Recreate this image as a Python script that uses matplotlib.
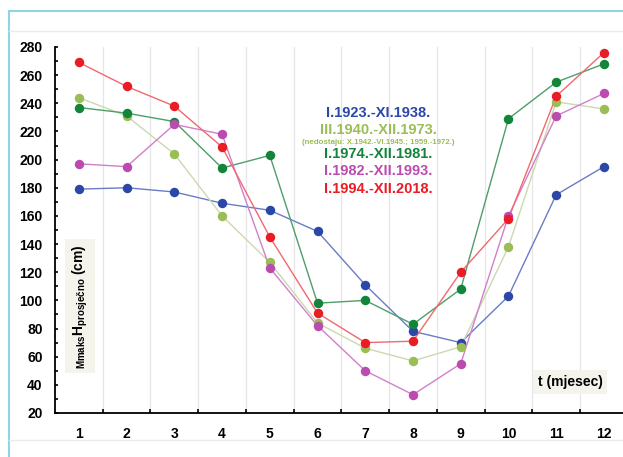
import matplotlib
matplotlib.use('Agg')
import matplotlib.pyplot as plt
import matplotlib.ticker as mticker
from matplotlib.lines import Line2D

plt.rcParams['font.family'] = ['Liberation Sans', 'DejaVu Sans']
plt.rcParams['mathtext.fontset'] = 'custom'
plt.rcParams['mathtext.rm'] = 'Liberation Sans'
plt.rcParams['mathtext.bf'] = 'Liberation Sans:bold'

# ---------------------------------------------------------------- data
months = list(range(1, 13))

labels = ['I.1923.-XI.1938.', 'III.1940.-XII.1973.', 'I.1974.-XII.1981.',
          'I.1982.-XII.1993.', 'I.1994.-XII.2018.']
colors = ['#2B47A8', '#9BBD56', '#12853A', '#BC4BB0', '#EA1C24']
line_colors = ['#6A7CC4', '#CBD9AE', '#4E9E6A', '#D27FCB', '#F0696F']

h_1923 = [179, 180, 177, 169, 164, 149, 111, 78, 70, 103, 175, 195]
h_1940 = [244, 231, 204, 160, 127, 84, 66, 57, 67, 138, 241, 236]
h_1974 = [237, 233, 227, 194, 203, 98, 100, 83, 108, 229, 255, 268]
h_1982 = [197, 195, 225, 218, 123, 82, 50, 33, 55, 160, 231, 247]
h_1994 = [269, 252, 238, 209, 145, 91, 70, 71, 120, 158, 245, 276]
series = [h_1923, h_1940, h_1974, h_1982, h_1994]

gap_note = '(nedostaju: X.1942.-VI.1945.; 1959.-1972.)'

# ---------------------------------------------------------------- figure
fig = plt.figure(figsize=(6.23, 4.57), dpi=100)
ax = fig.add_axes([0.0883, 0.0963, 0.9117, 0.8009])

# outer frame of the page
fig.add_artist(Line2D([9/623, 1], [1 - 11/457] * 2, color='#8FD4E2', lw=1.5))
fig.add_artist(Line2D([9/623] * 2, [0, 1 - 11/457], color='#8FD4E2', lw=1.5))
fig.add_artist(Line2D([9/623, 1], [1 - 31/457] * 2, color='#EAEAEA', lw=1))
fig.add_artist(Line2D([9/623, 1], [1 - 440/457] * 2, color='#EAEAEA', lw=1))

for vals, c, lc in zip(series, colors, line_colors):
    ax.plot(months, vals, color=lc, lw=1.0, zorder=2)
    ax.plot(months, vals, linestyle='none', marker='o', markersize=6.8,
            color=c, markeredgewidth=0, zorder=3)

ax.set_xlim(0.5, 12.4)
ax.set_ylim(20, 280)
ax.xaxis.set_major_locator(mticker.FixedLocator(months))
ax.xaxis.set_minor_locator(mticker.FixedLocator([m + 0.5 for m in months[:-1]]))
ax.yaxis.set_major_locator(mticker.MultipleLocator(20))
ax.yaxis.set_minor_locator(mticker.MultipleLocator(10))

ax.tick_params(axis='x', which='major', length=0, pad=10, labelsize=10)
ax.tick_params(axis='x', which='minor', direction='in', length=3, width=1.2)
ax.tick_params(axis='y', which='both', direction='in', length=2.5, width=1.2,
               pad=9, labelsize=10)
for lbl in ax.get_xticklabels() + ax.get_yticklabels():
    lbl.set_fontweight('bold')

ax.grid(axis='x', which='minor', color='#E6E6E6', lw=0.9)
ax.set_axisbelow(True)
for s in ['top', 'right']:
    ax.spines[s].set_visible(False)
for s in ['left', 'bottom']:
    ax.spines[s].set_linewidth(1.3)

# legend written as coloured text
LX = 0.569
ax.text(LX, 0.8205, labels[0], color=colors[0], fontsize=10.5, fontweight='bold',
        ha='center', va='center', transform=ax.transAxes)
ax.text(LX, 0.773, labels[1], color=colors[1], fontsize=10.5, fontweight='bold',
        ha='center', va='center', transform=ax.transAxes)
ax.text(LX, 0.740, gap_note, color=colors[1], fontsize=5.7, fontweight='bold',
        ha='center', va='center', transform=ax.transAxes)
ax.text(LX, 0.707, labels[2], color=colors[2], fontsize=10.5, fontweight='bold',
        ha='center', va='center', transform=ax.transAxes)
ax.text(LX, 0.661, labels[3], color=colors[3], fontsize=10.5, fontweight='bold',
        ha='center', va='center', transform=ax.transAxes)
ax.text(LX, 0.612, labels[4], color=colors[4], fontsize=10.5, fontweight='bold',
        ha='center', va='center', transform=ax.transAxes)

box = dict(boxstyle='square,pad=0.35', facecolor='#F4F3EC', edgecolor='none')
ax.text(0.044, 0.292, r'$\mathbf{{}_{Mmaks}H_{prosječno}}$ (cm)', rotation=90,
        fontsize=10, fontweight='bold', ha='center', va='center',
        transform=ax.transAxes, bbox=box)
ax.text(0.907, 0.085, 't (mjesec)', fontsize=10, fontweight='bold',
        ha='center', va='center', transform=ax.transAxes, bbox=box)

fig.savefig('out.png', dpi=100)
